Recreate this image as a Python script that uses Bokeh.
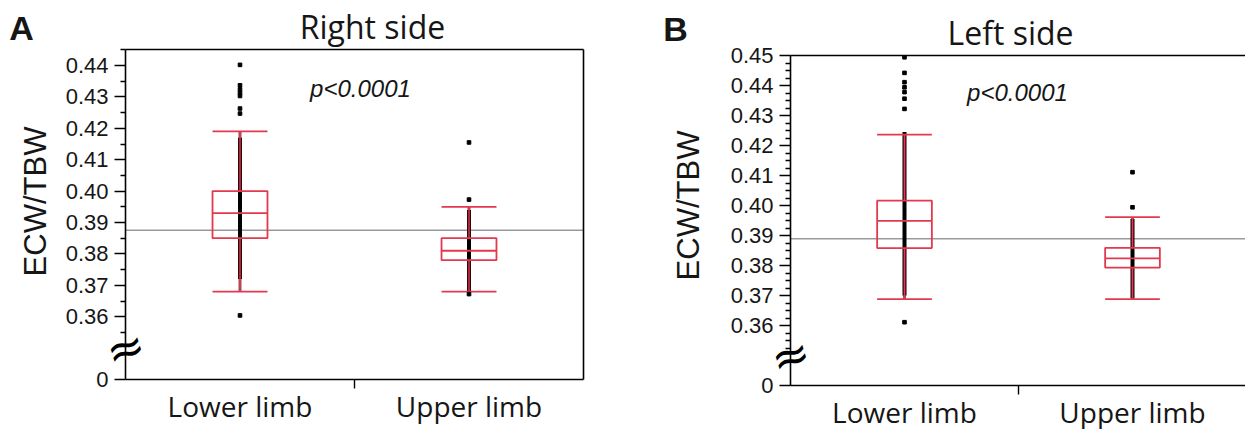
import numpy as np
from bokeh.plotting import figure
from bokeh.layouts import row
from bokeh.models import Label, FixedTicker, LinearAxis, Range1d
from bokeh.embed import file_html
from bokeh.resources import INLINE

# ---------------- data ----------------
categories = ["Lower limb", "Upper limb"]
cat_pos = [1, 2]

# Panel A: Right side
a_whisker_low = [0.368, 0.368]
a_q1 = [0.385, 0.378]
a_median = [0.393, 0.381]
a_q3 = [0.400, 0.385]
a_whisker_high = [0.419, 0.395]
a_dense_low = [0.372, 0.368]
a_dense_high = [0.417, 0.394]
a_out_lower = [0.4402, 0.4337, 0.4324, 0.4313, 0.4303, 0.4263, 0.4247, 0.3604]
a_out_upper = [0.4155, 0.3973, 0.3672]
a_reference = 0.3875

# Panel B: Left side
b_whisker_low = [0.3688, 0.3688]
b_q1 = [0.3858, 0.3793]
b_median = [0.3949, 0.3824]
b_q3 = [0.4016, 0.3859]
b_whisker_high = [0.4236, 0.3961]
b_dense_low = [0.370, 0.369]
b_dense_high = [0.4245, 0.3955]
b_out_lower = [0.4494, 0.4442, 0.4411, 0.4394, 0.4378, 0.4356, 0.4322, 0.3611]
b_out_upper = [0.4111, 0.3994]
b_reference = 0.3889

y_ticks_a = [0.34, 0.36, 0.37, 0.38, 0.39, 0.40, 0.41, 0.42, 0.43, 0.44]
y_ticks_b = [0.34, 0.36, 0.37, 0.38, 0.39, 0.40, 0.41, 0.42, 0.43, 0.44, 0.45]
y_break_value = 0.34  # axis position labelled "0"

RED = "#e3394f"
DARK = "#7a1222"
TXT = "#161616"
SANS = "Liberation Sans"
HUM = "Open Sans"
H = 429


def panel(letter, title, wl, q1, med, q3, wh, dlo, dhi, out_lo, out_up, ref,
          y_ticks, y_top, minor_step, width, px_axis, px_per_x, py_zero,
          py_top, full_box, pos):
    x0 = 0.5 - px_axis / px_per_x
    x1 = x0 + width / px_per_x
    px_per_y = (py_zero - py_top) / (y_top - y_break_value)
    y0 = y_break_value - (H - py_zero) / px_per_y
    y1 = y_break_value + py_zero / px_per_y
    x_end = 2.5 if full_box else x1

    p = figure(width=width, height=H, min_border=0, min_border_left=0,
               min_border_right=0, min_border_top=0, min_border_bottom=0,
               x_range=Range1d(x0, x1), y_range=Range1d(y0, y1),
               output_backend="svg", toolbar_location=None,
               x_axis_type=None, y_axis_type=None)
    p.title.visible = False
    p.grid.visible = False
    p.outline_line_color = None
    p.background_fill_color = "white"
    p.border_fill_color = "white"

    # y axis
    start = 0.3525 if minor_step < 0.005 else 0.355
    minors = [round(v, 4) for v in np.arange(start, y_top + 1e-9, minor_step)]
    minors = [m for m in minors if all(abs(m - t) > 1e-6 for t in y_ticks)]
    yax = LinearAxis(ticker=FixedTicker(ticks=y_ticks, minor_ticks=minors),
                     fixed_location=0.5, bounds=(y_break_value, y_top),
                     major_label_overrides={t: ("0" if t == y_break_value else f"{t:.2f}") for t in y_ticks},
                     major_tick_out=11, major_tick_in=0,
                     minor_tick_out=5, minor_tick_in=0,
                     major_label_standoff=6,
                     major_label_text_font=SANS,
                     major_label_text_font_size="22px",
                     major_label_text_color=TXT,
                     axis_line_width=1.6, major_tick_line_width=1.4,
                     minor_tick_line_width=1.4)
    p.add_layout(yax, "left")

    # x axis
    xax = LinearAxis(ticker=FixedTicker(ticks=cat_pos, minor_ticks=[1.5]),
                     fixed_location=y_break_value, bounds=(0.5, x_end),
                     major_label_overrides={c: n for c, n in zip(cat_pos, categories)},
                     major_tick_out=0, major_tick_in=0,
                     minor_tick_out=9, minor_tick_in=0,
                     major_label_standoff=-2,
                     major_label_text_font=HUM,
                     major_label_text_font_size="28px",
                     major_label_text_color=TXT,
                     axis_line_width=1.6, minor_tick_line_width=1.4)
    p.add_layout(xax, "below")

    # frame borders
    top = LinearAxis(ticker=FixedTicker(ticks=[]), fixed_location=y_top,
                     bounds=(0.5, x_end), major_tick_out=0, major_tick_in=0,
                     minor_tick_out=0, minor_tick_in=0,
                     major_label_text_font_size="0px",
                     axis_line_width=1.6, axis_line_color="black")
    p.add_layout(top, "above")
    if full_box:
        right = LinearAxis(ticker=FixedTicker(ticks=[]), fixed_location=2.5,
                           bounds=(y_break_value, y_top), major_tick_out=0,
                           major_tick_in=0, minor_tick_out=0, minor_tick_in=0,
                           major_label_text_font_size="0px",
                           axis_line_width=1.6, axis_line_color="black")
        p.add_layout(right, "right")

    # reference line
    p.segment(x0=[0.5], y0=[ref], x1=[x_end], y1=[ref], line_color="#9a9a9a",
              line_width=1.5)

    hw = 0.12
    # raw data strip (dense black points)
    p.segment(x0=cat_pos, y0=dlo, x1=cat_pos, y1=dhi, line_color="black",
              line_width=4)
    # whiskers
    for a, b in ((q3, wh), (wl, q1)):
        p.segment(x0=cat_pos, y0=a, x1=cat_pos, y1=b, line_color=DARK,
                  line_width=3, line_alpha=0.75)
        p.segment(x0=cat_pos, y0=a, x1=cat_pos, y1=b, line_color=RED,
                  line_width=1.2)
    xl = [c - hw for c in cat_pos]
    xr = [c + hw for c in cat_pos]
    p.segment(x0=xl, y0=wh, x1=xr, y1=wh, line_color=RED, line_width=1.8)
    p.segment(x0=xl, y0=wl, x1=xr, y1=wl, line_color=RED, line_width=1.8)
    p.quad(left=xl, right=xr, bottom=q1, top=q3, fill_alpha=0,
           line_color=RED, line_width=1.8)
    p.segment(x0=xl, y0=med, x1=xr, y1=med, line_color=RED, line_width=1.8)
    p.scatter(x=[1] * len(out_lo), y=out_lo, marker="square", size=3.6,
              color="black")
    p.scatter(x=[2] * len(out_up), y=out_up, marker="square", size=3.6,
              color="black")

    # axis break symbol (midway between "0" and 0.36)
    p.add_layout(Label(x=0.5, y=(y_break_value + y_ticks[1]) / 2, text="≈",
                       text_font="DejaVu Sans", text_font_size="46px",
                       text_align="center", text_baseline="middle",
                       angle=0.3, text_color="black"))

    (lx, ly), (tx, ty), (px, py), (ex, ey) = pos
    p.add_layout(Label(x=lx, y=H - ly, x_units="screen", y_units="screen",
                       text=letter, text_font=SANS, text_font_style="bold",
                       text_font_size="34px", text_align="center",
                       text_baseline="middle", text_color=TXT))
    p.add_layout(Label(x=tx, y=H - ty, x_units="screen", y_units="screen",
                       text=title, text_font=HUM, text_font_size="32px",
                       text_align="center", text_baseline="middle",
                       text_color=TXT))
    p.add_layout(Label(x=px, y=H - py, x_units="screen", y_units="screen",
                       text="p<0.0001", text_font=SANS,
                       text_font_style="italic", text_font_size="24px",
                       text_align="center", text_baseline="middle",
                       text_color=TXT))
    p.add_layout(Label(x=ex, y=H - ey, x_units="screen", y_units="screen",
                       text="ECW/TBW", text_font=SANS, text_font_size="31px",
                       text_align="center", text_baseline="middle",
                       angle=np.pi / 2, text_color=TXT))
    return p


pa = panel("A", "Right side", a_whisker_low, a_q1, a_median, a_q3,
           a_whisker_high, a_dense_low, a_dense_high, a_out_lower, a_out_upper,
           a_reference, y_ticks_a, 0.4451, 0.005, 620, 125, 229, 379, 49,
           True, [(21, 27), (372, 26), (360, 88), (35, 201)])

pb = panel("B", "Left side", b_whisker_low, b_q1, b_median, b_q3,
           b_whisker_high, b_dense_low, b_dense_high, b_out_lower, b_out_upper,
           b_reference, y_ticks_b, 0.45, 0.0025, 625, 170, 228, 385, 55,
           False, [(55, 28), (390, 32), (397, 92), (68, 205)])

layout = row(pa, pb, spacing=0)
open("out.html", "w").write(file_html(layout, INLINE))
